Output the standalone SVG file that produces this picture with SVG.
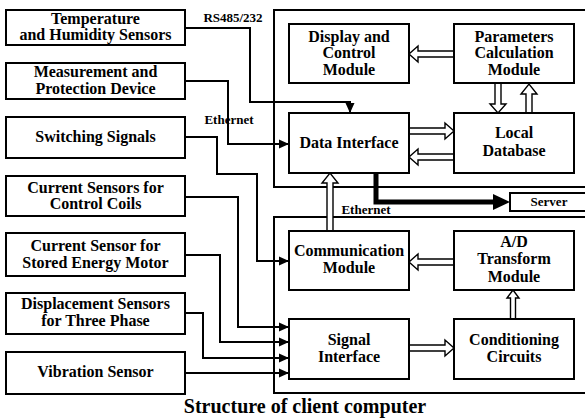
<svg xmlns="http://www.w3.org/2000/svg" width="585" height="419" viewBox="0 0 585 419">
  <style>
    .box { fill: #fff; stroke: #000; stroke-width: 2; }
    .frame { fill: none; stroke: #000; stroke-width: 2; }
    .wire { fill: none; stroke: #000; stroke-width: 2; }
    .hollow { fill: #fff; stroke: #000; stroke-width: 1.4; stroke-linejoin: miter; }
    text { font-weight: bold; fill: #000; text-anchor: middle; }
    .lbl { font-size: 16px; }
    .sm { font-size: 13px; }
    .title { font-size: 20px; }
  </style>
  <defs>
    <marker id="arr" markerUnits="userSpaceOnUse" markerWidth="10" markerHeight="10" refX="10" refY="5" orient="auto">
      <path d="M0,0.5 L10,5 L0,9.5 z" fill="#000"/>
    </marker>
  </defs>

  <rect width="585" height="419" fill="#fff"/>

  <g font-family="Liberation Serif, Times New Roman, DejaVu Serif, serif">
  <!-- client computer frames (open to the right) -->
  <path class="frame" d="M585,10 H274 V187 H585"/>
  <path class="frame" d="M585,217 H274 V393 H585"/>

  <!-- connectors -->
  <g id="connectors">
    <path class="wire" d="M185,28 H250 V102 H350 V113" marker-end="url(#arr)"/>
    <path class="wire" d="M185,81 H228 V144 H289" marker-end="url(#arr)"/>
    <path class="wire" d="M185,137 H217 V174 H257 V261 H289" marker-end="url(#arr)"/>
    <path class="wire" d="M185,197 H238 V327 H289" marker-end="url(#arr)"/>
    <path class="wire" d="M185,255 H220 V342 H289" marker-end="url(#arr)"/>
    <path class="wire" d="M185,313 H203 V358 H289" marker-end="url(#arr)"/>
    <path class="wire" d="M185,373 H289" marker-end="url(#arr)"/>

    <!-- data interface to server -->
    <path d="M376,173 V202 H495" fill="none" stroke="#000" stroke-width="5"/>
    <polygon points="493,194 510,202 493,210" fill="#000"/>

    <!-- hollow block arrows -->
    <polygon class="hollow" points="454,51 418,51 418,46 409,54 418,62 418,57 454,57"/>
    <polygon class="hollow" points="409,128 445,128 445,123 454,131 445,139 445,134 409,134"/>
    <polygon class="hollow" points="454,154 418,154 418,149 409,157 418,165 418,160 454,160"/>
    <polygon class="hollow" points="495,83 495,104 490,104 498,113 506,104 501,104 501,83"/>
    <polygon class="hollow" points="526,113 526,94 521,94 529,84 537,94 532,94 532,113"/>
    <polygon class="hollow" points="327,231 327,183 322,183 330,173 338,183 333,183 333,231"/>
    <polygon class="hollow" points="454,259 418,259 418,254 409,262 418,270 418,265 454,265"/>
    <polygon class="hollow" points="409,345 445,345 445,340 454,348 445,356 445,351 409,351"/>
    <polygon class="hollow" points="510.5,319 510.5,298 507,298 513,290 519,298 515.5,298 515.5,319"/>

    <text class="sm" x="233" y="22">RS485/232</text>
    <text class="sm" x="229" y="124">Ethernet</text>
    <text class="sm" x="366" y="214">Ethernet</text>
  </g>

  <!-- sensors -->
  <g id="temp-humidity">
    <rect class="box" x="6" y="10" width="179" height="35"/>
    <text class="lbl" x="95.5" y="24">Temperature</text>
    <text class="lbl" x="95.5" y="40">and Humidity Sensors</text>
  </g>
  <g id="measurement-protection">
    <rect class="box" x="6" y="63" width="179" height="36"/>
    <text class="lbl" x="95.5" y="77">Measurement and</text>
    <text class="lbl" x="95.5" y="94">Protection Device</text>
  </g>
  <g id="switching-signals">
    <rect class="box" x="6" y="117" width="179" height="41"/>
    <text class="lbl" x="95.5" y="142">Switching Signals</text>
  </g>
  <g id="coil-current">
    <rect class="box" x="6" y="176" width="179" height="40"/>
    <text class="lbl" x="95.5" y="193">Current Sensors for</text>
    <text class="lbl" x="95.5" y="209">Control Coils</text>
  </g>
  <g id="motor-current">
    <rect class="box" x="6" y="233" width="179" height="43"/>
    <text class="lbl" x="95.5" y="251">Current Sensor for</text>
    <text class="lbl" x="95.5" y="268">Stored Energy Motor</text>
  </g>
  <g id="displacement">
    <rect class="box" x="6" y="293" width="179" height="41"/>
    <text class="lbl" x="95.5" y="309">Displacement Sensors</text>
    <text class="lbl" x="95.5" y="326">for Three Phase</text>
  </g>
  <g id="vibration">
    <rect class="box" x="6" y="352" width="179" height="42"/>
    <text class="lbl" x="95.5" y="377">Vibration Sensor</text>
  </g>

  <!-- upper modules -->
  <g id="display-control">
    <rect class="box" x="289" y="24" width="120" height="59"/>
    <text class="lbl" x="349" y="42">Display and</text>
    <text class="lbl" x="349" y="58">Control</text>
    <text class="lbl" x="349" y="75">Module</text>
  </g>
  <g id="parameters-calc">
    <rect class="box" x="454" y="24" width="120" height="59"/>
    <text class="lbl" x="514" y="42">Parameters</text>
    <text class="lbl" x="514" y="58">Calculation</text>
    <text class="lbl" x="514" y="75">Module</text>
  </g>
  <g id="data-interface">
    <rect class="box" x="289" y="113" width="120" height="60"/>
    <text class="lbl" x="349" y="148">Data Interface</text>
  </g>
  <g id="local-database">
    <rect class="box" x="454" y="113" width="120" height="60"/>
    <text class="lbl" x="514" y="138">Local</text>
    <text class="lbl" x="514" y="156">Database</text>
  </g>

  <g id="server">
    <path class="box" d="M586,193 H510 V211 H586"/>
    <text class="sm" x="549" y="206">Server</text>
  </g>

  <!-- lower modules -->
  <g id="communication">
    <rect class="box" x="289" y="231" width="120" height="59"/>
    <text class="lbl" x="349" y="256">Communication</text>
    <text class="lbl" x="349" y="273">Module</text>
  </g>
  <g id="ad-transform">
    <rect class="box" x="454" y="231" width="120" height="59"/>
    <text class="lbl" x="514" y="247">A/D</text>
    <text class="lbl" x="514" y="264">Transform</text>
    <text class="lbl" x="514" y="282">Module</text>
  </g>
  <g id="signal-interface">
    <rect class="box" x="289" y="319" width="120" height="60"/>
    <text class="lbl" x="349" y="345">Signal</text>
    <text class="lbl" x="349" y="362">Interface</text>
  </g>
  <g id="conditioning">
    <rect class="box" x="454" y="319" width="120" height="60"/>
    <text class="lbl" x="514" y="345">Conditioning</text>
    <text class="lbl" x="514" y="362">Circuits</text>
  </g>

  <text class="title" x="305" y="413">Structure of client computer</text>
  </g>
</svg>
